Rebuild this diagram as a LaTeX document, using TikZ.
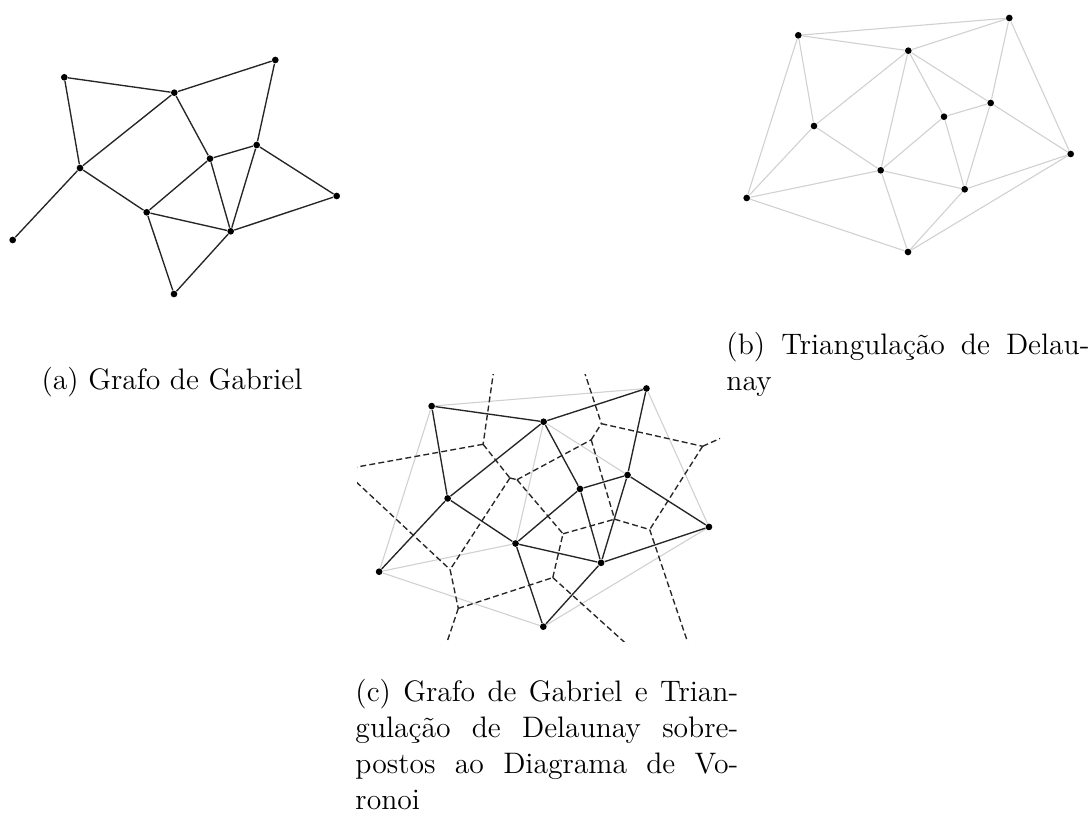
\documentclass[tikz,border=0pt]{standalone}
\usepackage{fontspec}
\begin{document}
\begin{tikzpicture}[x=0.405pt,y=-0.405pt,
    site/.style={circle,fill=black,inner sep=0pt,minimum size=2.7pt},
    gabriel/.style={draw=black!85,line width=0.55pt},
    delaunay/.style={draw=black!18,line width=0.45pt},
    voronoi/.style={draw=black!85,line width=0.55pt,dash pattern=on 2.4pt off 1.3pt},
    caption/.style={font=\fontsize{12}{14.5}\selectfont,inner sep=0pt}]
  \def\sites{1/64.3/77.3,2/174.3/92.7,3/275.3/60,4/80/168,5/210/158.7,%
    6/256.7/145,7/336.7/196,8/146.7/212.3,9/230.7/231.3,10/12.7/240,11/174/294}
  \def\gabriel{1/2,2/3,1/4,4/2,2/5,3/6,5/6,4/10,4/8,8/5,5/9,6/9,6/7,7/9,8/9,8/11,11/9}
  \def\delonly{1/3,1/10,2/8,2/6,3/7,8/10,7/11,10/11}
  \useasboundingbox (0,0) rectangle (1089,821);
  % (a)
  \begin{scope}
    \foreach \i/\x/\y in \sites \node[site] (a\i) at (\x,\y) {};
    \foreach \u/\v in \gabriel \draw[gabriel] (a\u) -- (a\v);
  \end{scope}
  % (b)
  \begin{scope}[shift={(734,-42)}]
    \foreach \i/\x/\y in \sites \node[site] (b\i) at (\x,\y) {};
    \foreach \u/\v in \gabriel \draw[delaunay] (b\u) -- (b\v);
    \foreach \u/\v in \delonly \draw[delaunay] (b\u) -- (b\v);
  \end{scope}
  % (c)
  \begin{scope}[shift={(366.2,327.4)},scale=1.018]
    \foreach \i/\x/\y in \sites \node[site] (c\i) at (\x,\y) {};
    \foreach \u/\v in \delonly \draw[delaunay] (c\u) -- (c\v);
  \end{scope}
  \foreach \i/\x/\y in {1/521.3/179.5,2/483.1/444.3,3/342.9/469.5,4/509.9/478,%
      5/517/479.7,6/591.2/439.8,7/601.4/423.7,8/702.6/446.3,9/450.1/569.6,%
      10/458.3/608.4,11/552.8/577.6,12/563/533.8,13/614.6/519.2,14/649.7/529.6,%
      15/715.2/724}
    \coordinate (v\i) at (\x,\y);
  \coordinate (w8) at (793.9,405.4);
  \coordinate (w10) at (426.5,703.2);
  \begin{scope}
    \clip (357,375) rectangle (720,642);
    \foreach \u/\v in {1/2,1/7,2/3,2/4,3/9,4/9,4/5,5/12,5/6,6/13,6/7,7/8,8/14,%
        9/10,10/11,11/12,11/15,12/13,13/14,14/15}
      \draw[voronoi] (v\u) -- (v\v);
    \draw[voronoi] (v8) -- (w8) (v10) -- (w10);
  \end{scope}
  \foreach \u/\v in \gabriel \draw[gabriel] (c\u) -- (c\v);
  % legendas
  \node[caption,anchor=base] (capa) at (172,390) {(a) Grafo de Gabriel};
  \node[caption,anchor=base west,text width=147pt,align=justify] (capb)
    at (726,355) {(b) Triangulação de Delau-\linebreak nay};
  \node[caption,anchor=base west,text width=155pt,align=justify] (capc)
    at (355,702) {(c) Grafo de Gabriel e Trian-\linebreak gulação de Delaunay
      sobre-\linebreak postos ao Diagrama de Vo-\linebreak ronoi};
\end{tikzpicture}
\end{document}
